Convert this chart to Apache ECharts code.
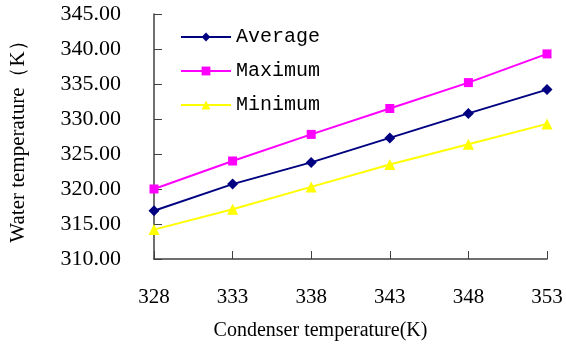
<!DOCTYPE html>
<html>
<head>
<meta charset="utf-8">
<script src="https://cdn.jsdelivr.net/npm/echarts@6/dist/echarts.min.js"></script>
<style>html,body{margin:0;padding:0;background:#fff;}#c{width:566px;height:352px;}</style>
</head>
<body>
<div id="c"></div>
<script>
var categories = ['328', '333', '338', '343', '348', '353'];
var averageValues = [316.9, 320.7, 323.8, 327.3, 330.8, 334.2];
var maximumValues = [320.0, 324.0, 327.8, 331.5, 335.2, 339.3];
var minimumValues = [314.2, 317.1, 320.3, 323.5, 326.4, 329.3];
var yMin = 310, yMax = 345, yStep = 5;

var chart = echarts.init(document.getElementById('c'));
var axisColor = '#404040';
function mk(name, data, color, symbol, size) {
  return {
    name: name, type: 'line', data: data,
    symbol: symbol, symbolSize: size,
    lineStyle: {color: color, width: 2},
    itemStyle: {color: color},
    animation: false
  };
}
chart.setOption({
  animation: false,
  grid: {left: 153, right: 19, top: 14, bottom: 93},
  legend: {
    orient: 'vertical', left: 175, top: 22, itemGap: 14,
    itemWidth: 50, itemHeight: 11,
    textStyle: {fontFamily: 'Liberation Mono', fontSize: 20, color: '#000'},
    data: ['Average', 'Maximum', 'Minimum']
  },
  xAxis: {
    type: 'category', data: categories, boundaryGap: false,
    name: 'Condenser temperature(K)', nameLocation: 'middle', nameGap: 62,
    nameTextStyle: {fontFamily: 'Liberation Serif', fontSize: 20, color: '#000', padding: [0, 60, 0, 0]},
    axisLine: {lineStyle: {color: axisColor, width: 1.5}},
    axisTick: {inside: true, length: 8, lineStyle: {color: axisColor}},
    axisLabel: {fontFamily: 'Liberation Serif', fontSize: 21, color: '#000', margin: 28},
    splitLine: {show: false}
  },
  yAxis: {
    type: 'value', min: yMin, max: yMax, interval: yStep,
    name: 'Water temperature（K）', nameLocation: 'middle', nameGap: 125,
    nameTextStyle: {fontFamily: 'Liberation Serif', fontSize: 21, color: '#000'},
    axisLine: {show: true, lineStyle: {color: axisColor, width: 1.5}},
    axisTick: {show: true, inside: true, length: 8, lineStyle: {color: axisColor}},
    axisLabel: {fontFamily: 'Liberation Serif', fontSize: 22, color: '#000', margin: 33,
      formatter: function (v) { return v.toFixed(2); }},
    splitLine: {show: false}
  },
  series: [
    mk('Average', averageValues, '#000080', 'diamond', 11),
    mk('Maximum', maximumValues, '#FF00FF', 'rect', 9),
    mk('Minimum', minimumValues, '#FFFF00', 'triangle', 11)
  ]
});
</script>
</body>
</html>
